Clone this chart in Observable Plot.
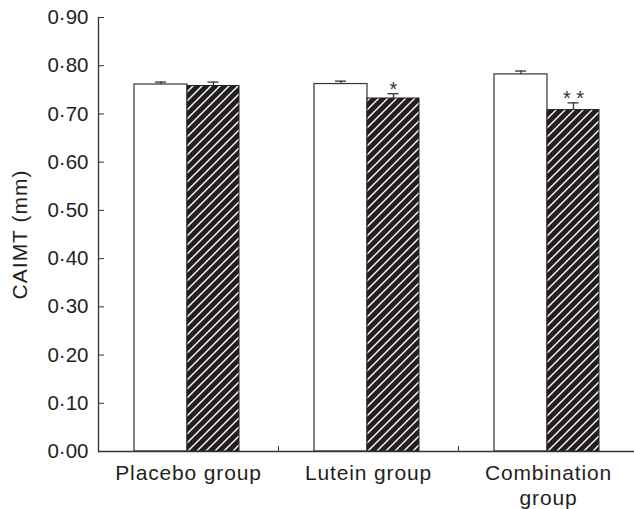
<!DOCTYPE html>
<html>
<head>
<meta charset="utf-8">
<script src="https://cdn.jsdelivr.net/npm/d3@7"></script>
<script src="https://cdn.jsdelivr.net/npm/@observablehq/plot@0.6"></script>
<style>
  body { margin: 0; background: #fff; }
  #chart svg { display: block; }
  #chart g[aria-label="x-axis tick label"] text { letter-spacing: 0.85px; }
  #chart g[aria-label="y-axis label"] text { letter-spacing: 1px; font-size: 21px; }
</style>
</head>
<body>
<svg width="0" height="0" style="position:absolute">
  <defs>
    <pattern id="hatch" patternUnits="userSpaceOnUse" width="9" height="9">
      <rect width="9" height="9" fill="#231f20"></rect>
      <path d="M-1,1 l2,-2 M0,9 l9,-9 M8,10 l2,-2" stroke="#ffffff" stroke-width="1.4"></path>
    </pattern>
  </defs>
</svg>
<div id="chart"></div>
<script>
const groups = ["Placebo group", "Lutein group", "Combination group"];
const xTickLabels = ["Placebo group", "Lutein group", "Combination\ngroup"];
const baselineMean = [0.761, 0.762, 0.782];
const baselineUpper = [0.766, 0.768, 0.789];
const afterMean = [0.758, 0.732, 0.708];
const afterUpper = [0.766, 0.742, 0.723];
const significance = ["", "*", "* *"];
const yTicks = [0, 0.1, 0.2, 0.3, 0.4, 0.5, 0.6, 0.7, 0.8, 0.9];

const baseline = groups.map((g, i) => ({group: g, value: baselineMean[i], upper: baselineUpper[i]}));
const after = groups.map((g, i) => ({group: g, value: afterMean[i], upper: afterUpper[i], sig: significance[i]}));

const fmt = v => v.toFixed(2).replace(".", "·");
const ink = "#231f20";

const chart = Plot.plot({
  width: 634,
  height: 509,
  marginLeft: 98,
  marginRight: 0,
  marginTop: 17,
  marginBottom: 58,
  style: {fontFamily: "'Liberation Sans', Arial, Helvetica, sans-serif", color: ink, background: "#fff"},
  x: {type: "band", domain: groups, range: [98, 638], padding: 0},
  y: {domain: [0, 0.9]},
  marks: [
    Plot.barY(baseline, {x: "group", y: "value", fill: "#fff", stroke: "#333", strokeWidth: 1.2, insetLeft: 36, insetRight: 91}),
    Plot.barY(after, {x: "group", y: "value", fill: "url(#hatch)", stroke: ink, strokeWidth: 1, insetLeft: 89, insetRight: 39}),
    Plot.ruleX(baseline, {x: "group", y1: "value", y2: "upper", dx: -27.5, stroke: "#333", strokeWidth: 1.3}),
    Plot.tickY(baseline, {x: "group", y: "upper", dx: -27.5, insetLeft: 84.5, insetRight: 84.5, stroke: "#333", strokeWidth: 1.3}),
    Plot.ruleX(after, {x: "group", y1: "value", y2: "upper", dx: 25, stroke: "#333", strokeWidth: 1.3}),
    Plot.tickY(after, {x: "group", y: "upper", dx: 25, insetLeft: 84.5, insetRight: 84.5, stroke: "#333", strokeWidth: 1.3}),
    Plot.text(after, {x: "group", y: "upper", text: "sig", dx: 25, dy: 2, lineAnchor: "bottom", fontSize: 20, fill: "#333"}),
    Plot.ruleY([0], {stroke: "#333", strokeWidth: 1.4}),
    Plot.frame({anchor: "left", stroke: "#333", strokeWidth: 1.3}),
    Plot.axisY({ticks: yTicks, tickSize: 6, dx: 6, tickFormat: () => "", stroke: "#333", label: null}),
    Plot.axisY({ticks: yTicks, tickSize: 0, tickPadding: 10, tickFormat: fmt, fontSize: 20.5, fill: ink,
      label: "CAIMT (mm)", labelAnchor: "center", labelOffset: 86, labelArrow: "none"}),
    Plot.axisX({ticks: groups.slice(0, 2), tickSize: 5, dx: 90, dy: -5, tickFormat: () => "", stroke: "#333", label: null}),
    Plot.axisX({tickSize: 0, tickPadding: 11, tickFormat: (d) => xTickLabels[groups.indexOf(d)], fontSize: 21, lineHeight: 1.17, fill: ink, label: null})
  ]
});
document.getElementById("chart").appendChild(chart);
</script>
</body>
</html>
